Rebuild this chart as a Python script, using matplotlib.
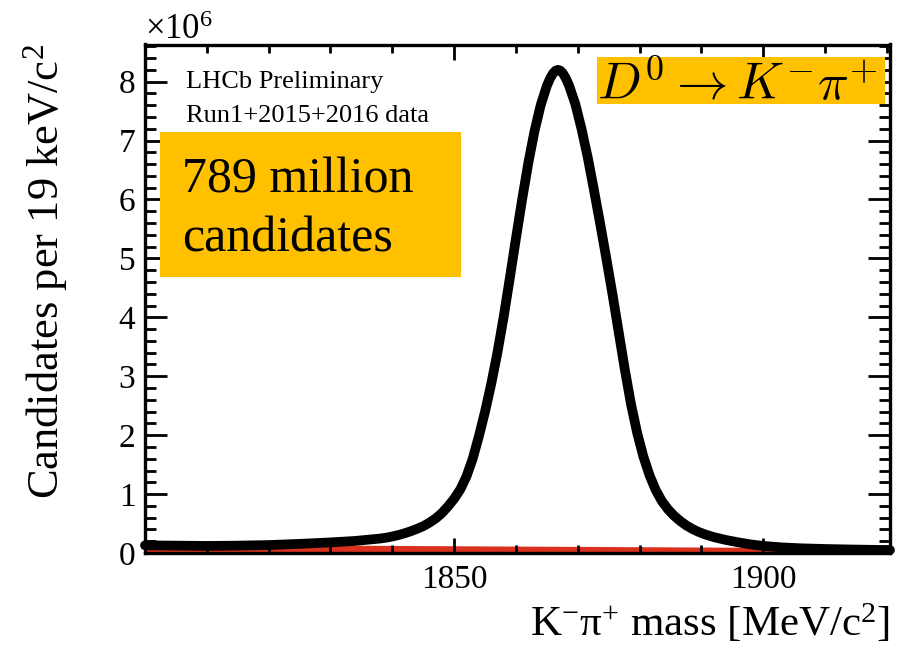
import matplotlib
matplotlib.use("Agg")
import matplotlib.pyplot as plt
from matplotlib.ticker import MultipleLocator, FixedLocator
from matplotlib.patches import Rectangle

plt.rcParams['font.family'] = ['Liberation Serif', 'DejaVu Serif']
plt.rcParams['mathtext.fontset'] = 'custom'
plt.rcParams['mathtext.rm'] = 'Liberation Serif'
plt.rcParams['mathtext.it'] = 'Liberation Serif:italic'

# K- pi+ invariant mass [MeV/c^2] and candidates per bin (millions)
mass = [1800, 1805, 1810, 1815, 1820, 1825, 1830, 1834, 1836, 1838,
        1839, 1840, 1841, 1842, 1843, 1844, 1845, 1846, 1847, 1848,
        1849, 1850, 1851, 1852, 1853, 1854, 1855, 1856, 1857, 1858,
        1859, 1860, 1861, 1862, 1863, 1864, 1865, 1865.5, 1866, 1866.4,
        1866.8, 1867.2, 1867.6, 1868.1, 1868.6, 1869.6, 1870.6, 1871.6, 1872.6, 1873.6,
        1874.6, 1875.6, 1876.6, 1877.6, 1878.6, 1879.6, 1880.6, 1881.6, 1882.6, 1883.6,
        1884.6, 1885.6, 1886.6, 1887.6, 1888.6, 1889.6, 1890.6, 1892, 1894, 1896,
        1898, 1900, 1903, 1906, 1910, 1915, 1920.5]
candidates = [0.13, 0.125, 0.12, 0.125, 0.135, 0.155, 0.18, 0.205, 0.225, 0.245,
              0.26, 0.28, 0.305, 0.335, 0.37, 0.41, 0.455, 0.515, 0.585, 0.675,
              0.79, 0.92, 1.08, 1.30, 1.60, 1.98, 2.40, 2.87, 3.40, 4.00,
              4.66, 5.34, 6.00, 6.62, 7.16, 7.60, 7.93, 8.05, 8.14, 8.185,
              8.20, 8.185, 8.14, 8.05, 7.93, 7.62, 7.20, 6.72, 6.17, 5.60,
              5.01, 4.40, 3.76, 3.12, 2.53, 2.04, 1.64, 1.32, 1.07, 0.88,
              0.74, 0.63, 0.54, 0.465, 0.405, 0.355, 0.315, 0.27, 0.22, 0.18,
              0.145, 0.12, 0.095, 0.08, 0.068, 0.058, 0.05]

# combinatorial background component (millions)
bkg_mass = [1800, 1920.5]
bkg_vals = [0.15, 0.085]

x_major = [1850, 1900]

fig = plt.figure(figsize=(8.99, 6.48), dpi=100)
ax = fig.add_axes([145 / 899, 95 / 648, 745 / 899, 508.5 / 648])

ax.fill_between(bkg_mass, 0, bkg_vals, color='#d9311e', lw=0, zorder=1)
ax.plot(mass, candidates, color='black', lw=7, solid_capstyle='round',
        solid_joinstyle='round', clip_on=False, zorder=2)

ax.set_xlim(1800, 1920.5)
ax.set_ylim(0, 8.63)

ax.xaxis.set_major_locator(FixedLocator(x_major))
ax.xaxis.set_minor_locator(MultipleLocator(10))
ax.yaxis.set_major_locator(MultipleLocator(1))
ax.yaxis.set_minor_locator(MultipleLocator(0.2))

ax.tick_params(which='both', direction='in', top=True, right=True, width=2,
               labelsize=24)
ax.tick_params(axis='x', which='major', length=11, pad=8)
ax.tick_params(axis='x', which='minor', length=5.5)
ax.tick_params(axis='y', which='major', length=15.5, pad=7)
ax.tick_params(axis='y', which='minor', length=8)
for sp in ax.spines.values():
    sp.set_linewidth(2.4)

ax.set_xlabel('K$^{-}$π$^{+}$ mass [MeV/c$^{2}$]', fontsize=31, loc='right')
ax.xaxis.set_label_coords(1.0, -0.097)
ax.set_ylabel('Candidates per 19 keV/c$^{2}$', fontsize=32, loc='top')
ax.yaxis.set_label_coords(-0.10, 1.0)

ax.text(0.0, 1.01, r'$\times10^{6}$', transform=ax.transAxes, fontsize=25,
        ha='left', va='baseline')

ax.text(0.055, 0.914, 'LHCb Preliminary', transform=ax.transAxes,
        fontsize=19, va='baseline')
ax.text(0.055, 0.848, 'Run1+2015+2016 data', transform=ax.transAxes,
        fontsize=19, va='baseline')

ax.add_patch(Rectangle((0.020, 0.543), 0.404, 0.285, transform=ax.transAxes,
                       facecolor='#FFC000', edgecolor='none', zorder=3))
ax.text(0.0497, 0.708, '789 million', transform=ax.transAxes, fontsize=36,
        va='baseline', zorder=4)
ax.text(0.0497, 0.592, 'candidates', transform=ax.transAxes, fontsize=36,
        va='baseline', zorder=4)

ax.add_patch(Rectangle((0.607, 0.883), 0.386, 0.092, transform=ax.transAxes,
                       facecolor='#FFC000', edgecolor='none', zorder=3))
ax.text(0.607, 0.889, r'$D^0 \rightarrow K^{-}\pi^{+}$', transform=ax.transAxes,
        fontsize=37, math_fontfamily='cm', va='baseline', zorder=4)

fig.savefig('out.png', dpi=100)
